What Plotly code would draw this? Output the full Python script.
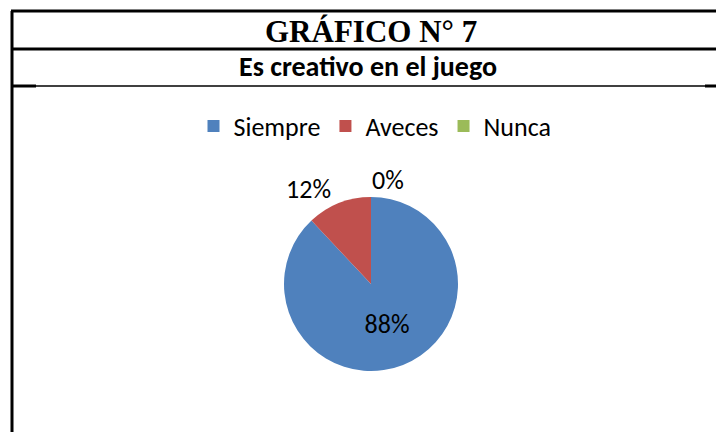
import plotly.graph_objects as go

W, H = 716, 432

categories = ['Siempre', 'Aveces', 'Nunca']
percentages = [88, 12, 0]
colors = ['#4F81BD', '#C0504D', '#9BBB59']
text_pos = ['inside', 'outside', 'none']

title_text = 'GRÁFICO N° 7'
subtitle_text = 'Es creativo en el juego'

sans = 'Calibri, Carlito, Lato, sans-serif'
serif = '"Times New Roman", "Liberation Serif", serif'


def px_x(x):
    return x / W


def px_y(y):
    return 1 - y / H


fig = go.Figure(go.Pie(
    labels=categories, values=percentages,
    marker=dict(colors=colors, line=dict(width=0)),
    sort=False, direction='clockwise', rotation=0,
    texttemplate='%{value}%', textposition=text_pos,
    textfont=dict(family=sans, size=26, color='black'),
    insidetextorientation='horizontal',
    domain=dict(x=[px_x(371 - 87), px_x(371 + 87)], y=[px_y(371), px_y(197)]),
    hoverinfo='label+percent',
))

# table-like frame around the chart
frame = [
    (11, 11, W, 11, 3),
    (12, 11, 12, H, 3),
    (11, 49, W, 49, 3),
    (11, 86, 36, 86, 3),
    (36, 86, 705, 86, 1.5),
    (705, 86, W, 86, 3),
]
shapes = [dict(type='line', xref='paper', yref='paper',
               x0=px_x(a), y0=px_y(b), x1=px_x(c), y1=px_y(d),
               line=dict(color='black', width=w)) for a, b, c, d, w in frame]


def label(text, x, y, family, size):
    return dict(text=text, xref='paper', yref='paper', x=px_x(x), y=px_y(y),
                xanchor='center', yanchor='middle', showarrow=False,
                font=dict(family=family, size=size, color='black'))


fig.update_layout(
    width=W, height=H,
    margin=dict(l=0, r=0, t=0, b=0),
    paper_bgcolor='white', plot_bgcolor='white',
    shapes=shapes,
    showlegend=True,
    legend=dict(orientation='h', x=px_x(375), xanchor='center',
                y=px_y(126), yanchor='middle',
                font=dict(family=sans, size=26, color='black'),
                traceorder='normal'),
    annotations=[
        label(f'<b>{title_text}</b>', 371, 31, serif, 31),
        label(f'<b>{subtitle_text}</b>', 368, 67, sans, 28),
        # zero slice label (plotly would draw it with a leader line)
        label(f'{percentages[2]}%', 388, 180, sans, 26),
    ],
)

fig.write_html('out.html', config={'displayModeBar': False},
               post_script="document.body.style.margin='0';document.body.style.overflow='hidden';")
